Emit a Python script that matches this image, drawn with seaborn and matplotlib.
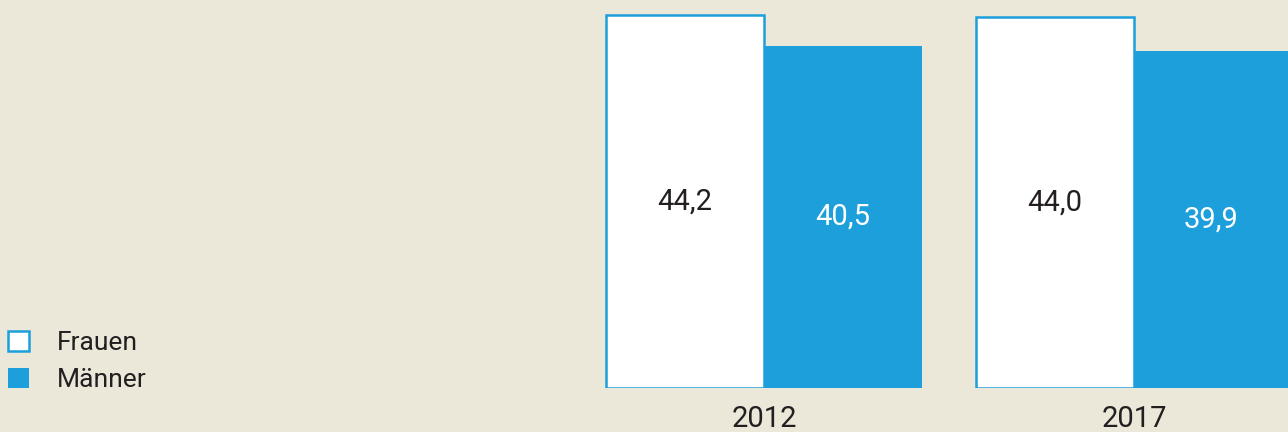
import pandas as pd
import seaborn as sns
import matplotlib.pyplot as plt
from matplotlib.patches import Patch

# Data
years = ["2012", "2017"]
frauen = [44.2, 44.0]
maenner = [40.5, 39.9]
groups = ["Frauen", "Männer"]

df = pd.DataFrame({
    "Jahr": years * 2,
    "Gruppe": [groups[0]] * len(years) + [groups[1]] * len(years),
    "Wert": frauen + maenner,
})

bg = "#ebe7d9"
blue = "#1c9fda"
dark = "#231f20"

sns.set_style("white")
plt.rcParams["font.family"] = ["Roboto", "DejaVu Sans"]

fig = plt.figure(figsize=(12.88, 4.32), dpi=100, facecolor=bg)
ax = fig.add_axes([0, 44 / 432, 1, 388 / 432])
ax.set_facecolor(bg)

sns.barplot(
    data=df, x="Jahr", y="Wert", hue="Gruppe", order=years, hue_order=groups,
    palette={"Frauen": "white", "Männer": blue}, width=0.854,
    saturation=1, legend=False, ax=ax,
)

# Frauen bars: white with blue outline
for bar in ax.containers[0]:
    bar.set_edgecolor(blue)
    bar.set_linewidth(1.8)
for bar in ax.containers[1]:
    bar.set_edgecolor("none")

ax.bar_label(ax.containers[0], labels=[f"{v:.1f}".replace(".", ",") for v in frauen],
             label_type="center", fontsize=21, color=dark)
ax.bar_label(ax.containers[1], labels=[f"{v:.1f}".replace(".", ",") for v in maenner],
             label_type="center", fontsize=21, color="white")

ax.set_xlim(-2.065, 1.416)
ax.set_ylim(0, 45.97)
ax.set_xlabel("")
ax.set_ylabel("")
ax.set_yticks([])
ax.grid(False)
ax.tick_params(axis="x", length=0, pad=12, labelsize=21, labelcolor=dark)
for s in ax.spines.values():
    s.set_visible(False)

handles = [
    Patch(facecolor="white", edgecolor=blue, linewidth=1.8, label="Frauen"),
    Patch(facecolor=blue, edgecolor="none", label="Männer"),
]
fig.legend(
    handles=handles, loc="lower left", bbox_to_anchor=(8 / 1288, 40 / 432),
    frameon=False, fontsize=19, handlelength=0.8, handleheight=0.8,
    handletextpad=1.05, labelspacing=0.48, borderpad=0, borderaxespad=0,
    labelcolor=dark,
)

fig.savefig("out.png", dpi=100, facecolor=bg)
